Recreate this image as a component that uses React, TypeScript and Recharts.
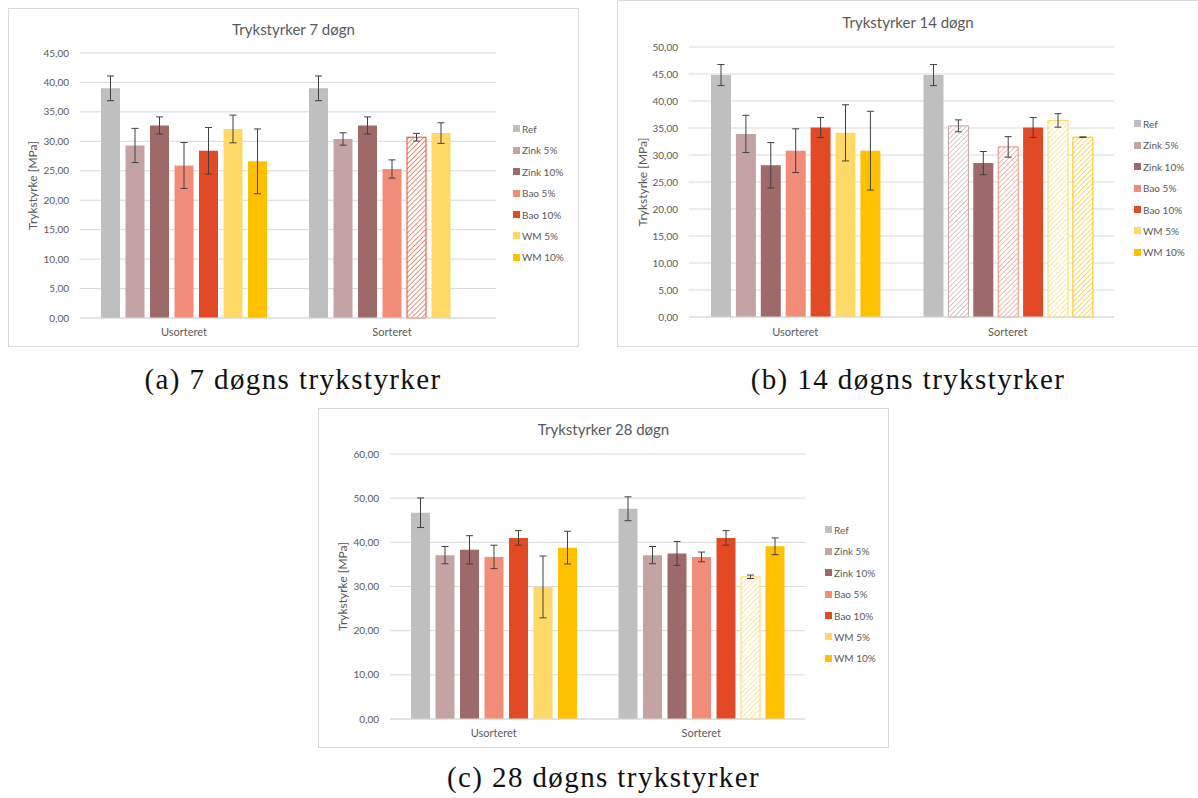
import React from 'react';
import { Bar, BarChart, CartesianGrid, Cell, ErrorBar, Legend, XAxis, YAxis } from 'recharts';

const CATEGORIES = ['Usorteret', 'Sorteret'];
const SERIES = ['Ref', 'Zink 5%', 'Zink 10%', 'Bao 5%', 'Bao 10%', 'WM 5%', 'WM 10%'];
const COLORS = ['#BFBFBF', '#C3A3A3', '#9E6969', '#F08C77', '#E24A26', '#FFD966', '#FFC000'];

// 7 døgn
const USORT_7 = [39.0, 29.3, 32.7, 25.9, 28.4, 32.1, 26.6];
const USORT_7_ERR = [2.1, 2.9, 1.45, 3.9, 3.95, 2.35, 5.5];
const SORT_7 = [39.0, 30.4, 32.7, 25.3, 30.7, 31.4, null];
const SORT_7_ERR = [2.1, 1.05, 1.45, 1.55, 0.65, 1.75, null];
const HATCH_7 = ['Bao 10%'];
const TICKS_7 = [0, 5, 10, 15, 20, 25, 30, 35, 40, 45];

// 14 døgn
const USORT_14 = [44.8, 33.9, 28.1, 30.8, 35.1, 34.1, 30.8];
const USORT_14_ERR = [1.95, 3.45, 4.2, 4.05, 1.85, 5.2, 7.3];
const SORT_14 = [44.8, 35.4, 28.5, 31.5, 35.1, 36.4, 33.3];
const SORT_14_ERR = [1.95, 1.1, 2.15, 1.9, 1.85, 1.25, 0.05];
const HATCH_14 = ['Zink 5%', 'Bao 5%', 'WM 5%', 'WM 10%'];
const TICKS_14 = [0, 5, 10, 15, 20, 25, 30, 35, 40, 45, 50];

// 28 døgn
const USORT_28 = [46.7, 37.1, 38.3, 36.7, 41.0, 29.9, 38.8];
const USORT_28_ERR = [3.35, 1.95, 3.2, 2.65, 1.65, 7.0, 3.7];
const SORT_28 = [47.6, 37.1, 37.5, 36.7, 41.0, 32.2, 39.1];
const SORT_28_ERR = [2.7, 1.95, 2.7, 1.1, 1.65, 0.4, 1.9];
const HATCH_28 = ['WM 5%'];
const TICKS_28 = [0, 10, 20, 30, 40, 50, 60];

const FONT = 'Lato, "Open Sans", sans-serif';
const TEXT = '#595959';
const GRID = '#D9D9D9';

function buildRows(usort: (number | null)[], usortErr: (number | null)[], sort: (number | null)[], sortErr: (number | null)[]) {
  return CATEGORIES.map((name, c) => {
    const vals = c === 0 ? usort : sort;
    const errs = c === 0 ? usortErr : sortErr;
    const row: Record<string, any> = { name };
    SERIES.forEach((_, i) => {
      row['s' + i] = vals[i];
      row['e' + i] = errs[i];
    });
    return row;
  });
}

const fmt = (v: number) => v.toFixed(2).replace('.', ',');

const YTitle = (props: any) => {
  const vb = props.viewBox || {};
  const cy = vb.y != null ? vb.y + vb.height / 2 : props.py;
  const x = props.px;
  return (
    <text
      x={x}
      y={cy}
      transform={`rotate(-90 ${x} ${cy})`}
      textAnchor="middle"
      dominantBaseline="central"
      fill={TEXT}
      fontFamily={FONT}
      fontSize={12}
    >
      Trykstyrke [MPa]
    </text>
  );
};

const renderLegend = () => (
  <div style={{ fontFamily: FONT, fontSize: 10, color: TEXT }}>
    {SERIES.map((s, i) => (
      <div key={s} style={{ height: 21.4, display: 'flex', alignItems: 'center', whiteSpace: 'nowrap' }}>
        <span style={{ display: 'inline-block', width: 7, height: 7, background: COLORS[i], marginRight: 2 }} />
        {s}
      </div>
    ))}
  </div>
);

interface PanelProps {
  id: string;
  title: string;
  rows: Record<string, any>[];
  hatched: string[];
  ticks: number[];
  left: number;
  top: number;
  width: number;
  height: number;
  plotTop: number;
  plotRight: number;
  xAxisHeight: number;
  barSize: number;
  barGap: number;
  legendX: number;
  legendY: number;
  labelX: number;
  titleY: number;
  catMargin: number;
}

function Panel(p: PanelProps) {
  return (
    <div
      style={{
        position: 'absolute',
        left: p.left,
        top: p.top,
        width: p.width,
        height: p.height,
        boxShadow: `inset 0 0 0 1px ${GRID}`,
        background: '#fff',
      }}
    >
      <div
        style={{
          position: 'absolute',
          left: 0,
          top: p.titleY - 9,
          width: '100%',
          textAlign: 'center',
          fontFamily: FONT,
          fontSize: 15,
          lineHeight: '18px',
          color: TEXT,
        }}
      >
        {p.title}
      </div>
      <div style={{ position: 'absolute', left: 0, top: 0 }}>
        <BarChart
          width={p.width}
          height={p.height}
          data={p.rows}
          margin={{ top: p.plotTop, right: p.plotRight, bottom: 0, left: 0 }}
          barSize={p.barSize}
          barGap={p.barGap}
        >
          <defs>
            {SERIES.map((s, i) => (
              <pattern
                key={s}
                id={`${p.id}-hatch-${i}`}
                patternUnits="userSpaceOnUse"
                width={3.5}
                height={3.5}
                patternTransform="rotate(45)"
              >
                <rect width={3.5} height={3.5} fill="#fff" />
                <line x1={0} y1={0} x2={0} y2={3.5} stroke={COLORS[i]} strokeWidth={1.2} />
              </pattern>
            ))}
          </defs>
          <CartesianGrid vertical={false} stroke={GRID} />
          <XAxis
            dataKey="name"
            height={p.xAxisHeight}
            tickLine={false}
            axisLine={{ stroke: GRID }}
            tickMargin={p.catMargin}
            tick={{ fill: TEXT, fontSize: 11, fontFamily: FONT }}
          />
          <YAxis
            width={72}
            domain={[0, p.ticks[p.ticks.length - 1]]}
            ticks={p.ticks}
            interval={0}
            tickFormatter={fmt}
            axisLine={false}
            tickLine={false}
            tickMargin={5}
            tick={{ fill: TEXT, fontSize: 10, fontFamily: FONT }}
            label={<YTitle px={p.labelX} />}
          />
          <Legend
            layout="vertical"
            align="center"
            verticalAlign="middle"
            wrapperStyle={{ left: p.legendX, top: p.legendY - 10.7, width: 80 }}
            content={renderLegend}
          />
          {SERIES.map((s, i) => (
            <Bar key={s} dataKey={'s' + i} name={s} fill={COLORS[i]} isAnimationActive={false}>
              {p.rows.map((r, c) =>
                c === 1 && p.hatched.includes(s) ? (
                  <Cell key={c} fill={`url(#${p.id}-hatch-${i})`} stroke={COLORS[i]} strokeWidth={1} />
                ) : (
                  <Cell key={c} fill={COLORS[i]} />
                )
              )}
              <ErrorBar dataKey={'e' + i} width={3.5} stroke="#404040" strokeWidth={1} />
            </Bar>
          ))}
        </BarChart>
      </div>
    </div>
  );
}

const captionStyle: React.CSSProperties = {
  position: 'absolute',
  fontFamily: '"Liberation Serif", "Times New Roman", serif',
  fontSize: 29,
  lineHeight: '34px',
  letterSpacing: 1.4,
  color: '#111',
  textAlign: 'center',
  whiteSpace: 'nowrap',
};

export default function App() {
  const rows7 = buildRows(USORT_7, USORT_7_ERR, SORT_7, SORT_7_ERR);
  const rows14 = buildRows(USORT_14, USORT_14_ERR, SORT_14, SORT_14_ERR);
  const rows28 = buildRows(USORT_28, USORT_28_ERR, SORT_28, SORT_28_ERR);

  return (
    <div style={{ position: 'absolute', left: 0, top: 0, width: 1198, height: 798, overflow: 'hidden', background: '#fff' }}>
      <Panel
        id="d7"
        title="Trykstyrker 7 døgn"
        rows={rows7}
        hatched={HATCH_7}
        ticks={TICKS_7}
        left={8}
        top={8}
        width={571}
        height={339}
        plotTop={45}
        plotRight={83}
        xAxisHeight={29}
        barSize={19}
        barGap={5.5}
        legendX={505}
        legendY={121}
        labelX={24}
        titleY={21}
        catMargin={4}
      />
      <Panel
        id="d14"
        title="Trykstyrker 14 døgn"
        rows={rows14}
        hatched={HATCH_14}
        ticks={TICKS_14}
        left={617}
        top={0}
        width={582}
        height={347}
        plotTop={47}
        plotRight={85}
        xAxisHeight={30}
        barSize={20}
        barGap={4.9}
        legendX={517}
        legendY={124}
        labelX={25}
        titleY={22}
        catMargin={5}
      />
      <Panel
        id="d28"
        title="Trykstyrker 28 døgn"
        rows={rows28}
        hatched={HATCH_28}
        ticks={TICKS_28}
        left={318}
        top={408}
        width={571}
        height={340}
        plotTop={46}
        plotRight={84}
        xAxisHeight={29}
        barSize={19}
        barGap={5.5}
        legendX={507}
        legendY={122}
        labelX={24}
        titleY={21}
        catMargin={4}
      />
      <div style={{ ...captionStyle, left: 0, width: 586, top: 362 }}>(a) 7 døgns trykstyrker</div>
      <div style={{ ...captionStyle, left: 617, width: 582, top: 362 }}>(b) 14 døgns trykstyrker</div>
      <div style={{ ...captionStyle, left: 318, width: 571, top: 760 }}>(c) 28 døgns trykstyrker</div>
    </div>
  );
}
